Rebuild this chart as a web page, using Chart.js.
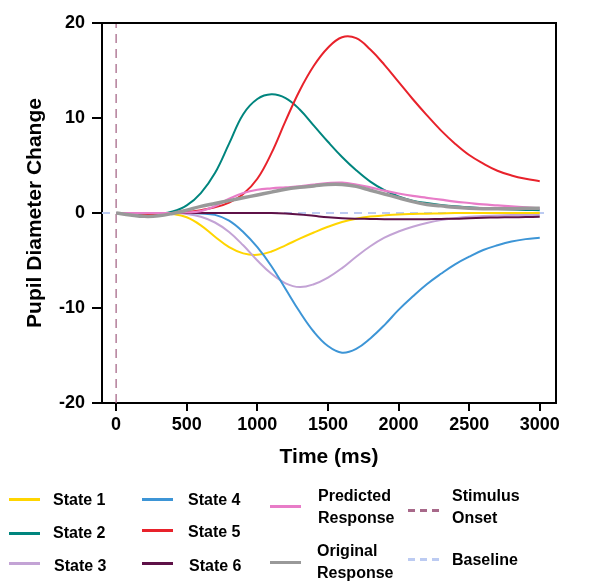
<!DOCTYPE html>
<html>
<head>
<meta charset="utf-8">
<script src="https://cdn.jsdelivr.net/npm/chart.js@4.4.1/dist/chart.umd.min.js"></script>
<style>
  body { margin: 0; background: #fff; font-family: "Liberation Sans", Arial, sans-serif; }
  #wrap { position: relative; width: 613px; height: 583px; }
  #legend { position: absolute; left: 0; top: 0; width: 613px; height: 583px; pointer-events: none; }
  .sw { position: absolute; width: 31px; height: 3px; }
  .lb { position: absolute; font-weight: bold; font-size: 16px; line-height: 22px; color: #000; white-space: nowrap; }
</style>
</head>
<body>
<div id="wrap">
  <canvas id="pupil-chart" width="613" height="470"></canvas>
  <div id="legend"></div>
</div>
<script>
// time points (ms)
var times = [0,100,200,300,400,500,600,700,800,900,1000,1100,1200,1300,1400,1500,
             1600,1700,1800,1900,2000,2100,2200,2300,2400,2500,2600,2700,2800,2900,3000];

var state1 = [0,0,0,0,-0.1,-0.45,-1.3,-2.5,-3.6,-4.25,-4.4,-4.05,-3.4,-2.7,-2.05,-1.45,
              -0.95,-0.6,-0.38,-0.25,-0.15,-0.1,-0.07,-0.04,0,0,0,0,0,0,0];
var state2 = [0,-0.1,-0.2,-0.1,0.15,0.8,2.1,4.2,7.3,10.4,12.0,12.5,12.1,10.9,9.2,7.5,
              5.9,4.5,3.3,2.4,1.75,1.3,1.05,0.85,0.7,0.6,0.5,0.42,0.36,0.32,0.3];
var state3 = [0,0,0,0,0,-0.1,-0.4,-1.0,-2.0,-3.4,-5.0,-6.4,-7.4,-7.8,-7.5,-6.8,
              -5.8,-4.6,-3.5,-2.6,-1.95,-1.45,-1.05,-0.75,-0.55,-0.4,-0.32,-0.26,-0.22,-0.2,-0.2];
var state4 = [0,0,0,0,0,0,-0.05,-0.2,-0.8,-2.0,-3.6,-5.6,-8.0,-10.4,-12.5,-14.0,
              -14.7,-14.3,-13.2,-11.8,-10.2,-8.8,-7.5,-6.4,-5.4,-4.6,-3.9,-3.4,-3.0,-2.75,-2.6];
var state5 = [0,0,-0.1,-0.1,0,0.1,0.3,0.6,1.1,2.0,3.6,6.3,9.7,12.9,15.5,17.4,
              18.5,18.4,17.2,15.6,13.8,12.0,10.3,8.7,7.3,6.1,5.2,4.45,3.95,3.6,3.35];
var state6 = [0,0,0,0,0,0,0,0,0,0,0,0,-0.05,-0.15,-0.3,-0.45,
              -0.55,-0.6,-0.62,-0.65,-0.65,-0.65,-0.65,-0.62,-0.6,-0.55,-0.5,-0.47,-0.45,-0.42,-0.4];
var predicted = [0,0,0,0,0,0.05,0.2,0.7,1.5,2.1,2.45,2.6,2.7,2.8,3.0,3.15,
                 3.2,3.0,2.7,2.35,2.05,1.8,1.6,1.4,1.2,1.05,0.9,0.8,0.7,0.6,0.5];
var original = [0,-0.2,-0.35,-0.3,-0.05,0.3,0.7,1.0,1.3,1.6,1.9,2.2,2.5,2.7,2.85,3.0,
                3.0,2.8,2.4,2.0,1.6,1.2,0.9,0.75,0.6,0.5,0.45,0.45,0.45,0.5,0.5];

var xTicks = [0,500,1000,1500,2000,2500,3000];
var yTicks = [-20,-10,0,10,20];

function pts(vals) {
  return times.map(function (t, i) { return { x: t, y: vals[i] }; });
}

function curve(label, vals, color, width) {
  return {
    label: label,
    data: pts(vals),
    borderColor: color,
    borderWidth: width || 2,
    pointRadius: 0,
    fill: false,
    tension: 0.4
  };
}

var FONT = "'Liberation Sans', Arial, sans-serif";

// draw the top and right edges of the box
var frame = {
  id: 'frame',
  afterDatasetsDraw: function (chart) {
    var a = chart.chartArea, c = chart.ctx;
    c.save();
    c.strokeStyle = '#000';
    c.lineWidth = 2;
    c.beginPath();
    c.moveTo(a.left, a.top);
    c.lineTo(a.right, a.top);
    c.lineTo(a.right, a.bottom);
    c.stroke();
    c.restore();
  }
};

var ctx = document.getElementById('pupil-chart');
var chart = new Chart(ctx, {
  type: 'line',
  data: {
    datasets: [
      curve('Original Response', original, '#999999', 3.5),
      curve('Predicted Response', predicted, '#e87cc8', 2.2),
      curve('State 6', state6, '#5e1147'),
      curve('State 5', state5, '#e8222b'),
      curve('State 4', state4, '#3d95d6'),
      curve('State 3', state3, '#c3a3d5'),
      curve('State 2', state2, '#00857e'),
      curve('State 1', state1, '#ffd500'),
      {
        label: 'Baseline',
        data: [{ x: -100, y: 0 }, { x: 3050, y: 0 }],
        borderColor: '#bccbf2',
        borderWidth: 2,
        borderDash: [8, 6],
        pointRadius: 0
      },
      {
        label: 'Stimulus Onset',
        data: [{ x: 0, y: -20 }, { x: 0, y: 20 }],
        borderColor: '#a8698a',
        borderWidth: 1.3,
        borderDash: [9, 6],
        pointRadius: 0
      }
    ]
  },
  options: {
    responsive: false,
    animation: false,
    layout: { padding: { top: 23, right: 57, left: 0, bottom: 0 } },
    plugins: { legend: { display: false }, tooltip: { enabled: false } },
    scales: {
      x: {
        type: 'linear',
        min: -100,
        max: 3115,
        afterFit: function (s) { s.height = 67; },
        afterBuildTicks: function (s) { s.ticks = xTicks.map(function (v) { return { value: v }; }); },
        grid: { drawOnChartArea: false, color: '#000', lineWidth: 2, tickLength: 8 },
        border: { color: '#000', width: 2 },
        ticks: { color: '#000', padding: 3, maxRotation: 0,
                 callback: function (v) { return String(v); },
                 font: { family: FONT, size: 18, weight: 'bold' } },
        title: { display: true, text: 'Time (ms)', color: '#000', padding: 0,
                 font: { family: FONT, size: 21, weight: 'bold' } }
      },
      y: {
        min: -20,
        max: 20,
        afterFit: function (s) { s.width = 102; },
        afterBuildTicks: function (s) { s.ticks = yTicks.map(function (v) { return { value: v }; }); },
        grid: { drawOnChartArea: false, color: '#000', lineWidth: 2, tickLength: 10 },
        border: { color: '#000', width: 2 },
        ticks: { color: '#000', padding: 7, font: { family: FONT, size: 18, weight: 'bold' } },
        title: { display: true, text: 'Pupil Diameter Change', color: '#000', padding: { top: 23 },
                 font: { family: FONT, size: 21, weight: 'bold' } }
      }
    }
  },
  plugins: [frame]
});

// legend below the chart
var legendItems = [
  { text: ['State 1'], color: '#ffd500', lx: 9, ly: 499, tx: 53, ty: 489 },
  { text: ['State 2'], color: '#00857e', lx: 9, ly: 533, tx: 53, ty: 522 },
  { text: ['State 3'], color: '#c3a3d5', lx: 9, ly: 563, tx: 54, ty: 555 },
  { text: ['State 4'], color: '#3d95d6', lx: 142, ly: 499, tx: 188, ty: 489 },
  { text: ['State 5'], color: '#e8222b', lx: 142, ly: 530, tx: 188, ty: 521 },
  { text: ['State 6'], color: '#5e1147', lx: 142, ly: 563, tx: 189, ty: 555 },
  { text: ['Predicted', 'Response'], color: '#e87cc8', lx: 270, ly: 506, tx: 318, ty: 485 },
  { text: ['Original', 'Response'], color: '#999999', lx: 270, ly: 562, tx: 317, ty: 540 },
  { text: ['Stimulus', 'Onset'], color: '#a8698a', dash: true, lx: 408, ly: 510, tx: 452, ty: 485 },
  { text: ['Baseline'], color: '#bccbf2', dash: true, lx: 408, ly: 559, tx: 452, ty: 549 }
];

var legend = document.getElementById('legend');
legendItems.forEach(function (it) {
  var sw = document.createElement('div');
  sw.className = 'sw';
  sw.style.left = it.lx + 'px';
  sw.style.top = (it.ly - 1) + 'px';
  if (it.dash) {
    sw.style.background = 'repeating-linear-gradient(90deg,' + it.color + ' 0 7px, transparent 7px 12px)';
  } else {
    sw.style.background = it.color;
  }
  legend.appendChild(sw);
  var lb = document.createElement('div');
  lb.className = 'lb';
  lb.style.left = it.tx + 'px';
  lb.style.top = it.ty + 'px';
  lb.innerHTML = it.text.join('<br>');
  legend.appendChild(lb);
});
</script>
</body>
</html>
